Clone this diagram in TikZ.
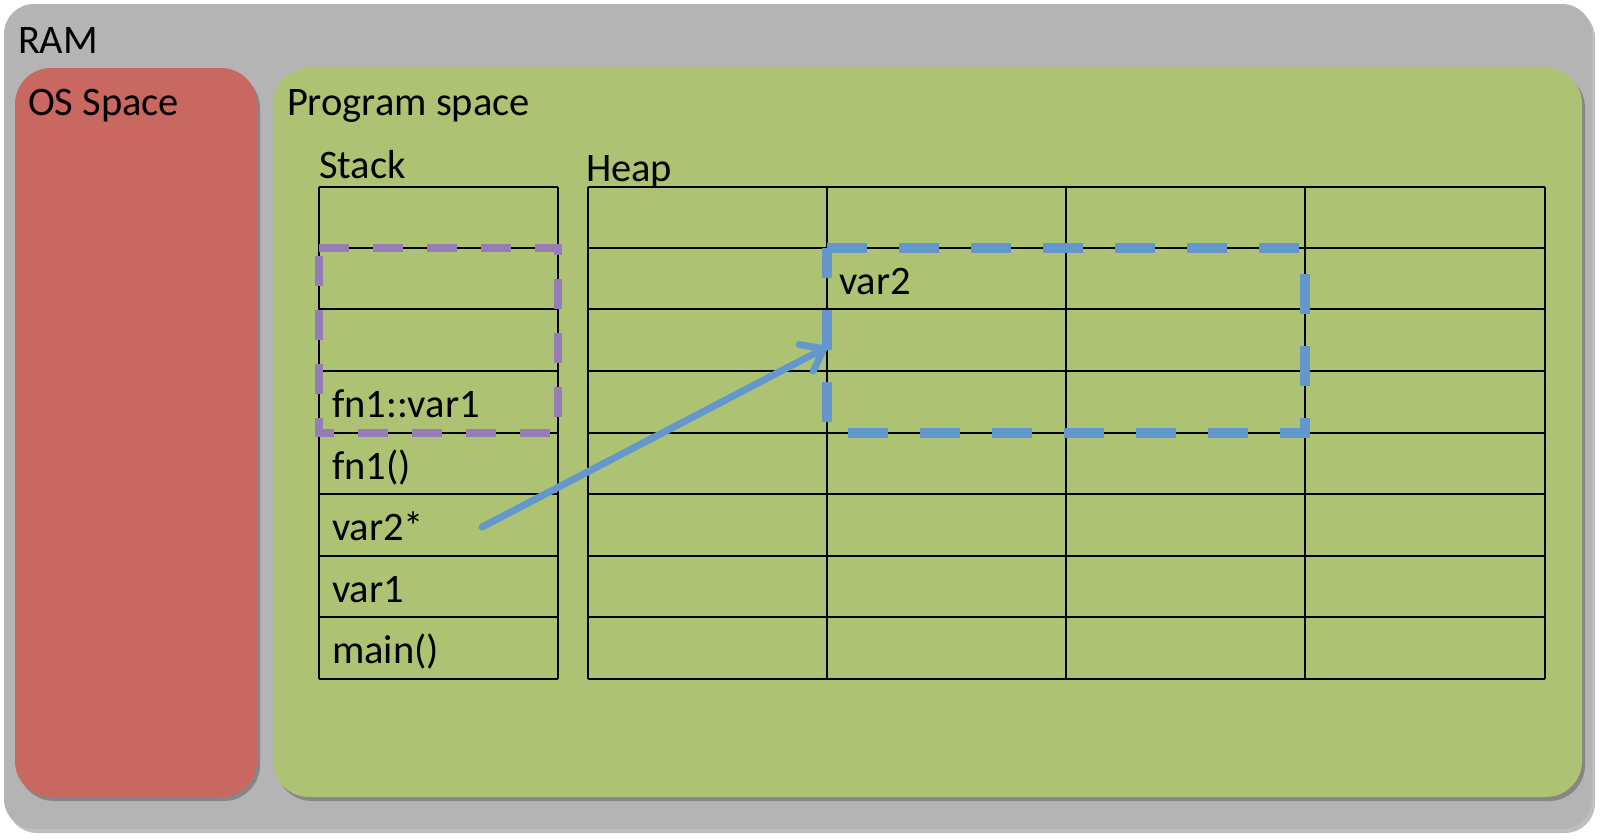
\documentclass[tikz,border=0pt]{standalone}
\usepackage{fontspec}
\setmainfont{Carlito}
\usetikzlibrary{arrows.meta,shadows}
\definecolor{ramgray}{RGB}{180,180,180}
\definecolor{osred}{RGB}{201,103,97}
\definecolor{proggreen}{RGB}{173,195,115}
\definecolor{ptrblue}{RGB}{100,152,204}
\definecolor{framepurple}{RGB}{150,125,184}
\begin{document}
\begin{tikzpicture}[x=1pt,y=-1pt,
  container/.style={draw=none, inner sep=0pt, outer sep=0pt, rectangle},
  softshadow/.style={drop shadow={shadow xshift=3pt, shadow yshift=-4pt, opacity=0.25, fill=black}},
  lbl/.style={anchor=base west, inner sep=0pt, outer sep=0pt, font=\fontsize{40.5pt}{48pt}\selectfont},
  gridline/.style={draw=black, line width=2pt},
  stackframe/.style={draw=framepurple, line width=8pt, dash pattern=on 30pt off 24pt},
  heapframe/.style={draw=ptrblue, line width=10pt, dash pattern=on 40pt off 32pt},
  pointer/.style={draw=ptrblue, line width=7pt, line cap=round, -{Straight Barb[length=20pt,width=30pt,round]}}
]
\useasboundingbox[fill=white] (0,0) rectangle (1600,839);

% containers
\node[container, softshadow, fill=ramgray, rounded corners=30pt,
      minimum width=1588pt, minimum height=825pt] (ram) at (798,416.5) {};
\node[container, softshadow, fill=osred, rounded corners=36pt,
      minimum width=242pt, minimum height=729pt] (os) at (136,432.5) {};
\node[container, softshadow, fill=proggreen, rounded corners=36pt,
      minimum width=1309pt, minimum height=729pt] (prog) at (927.5,432.5) {};

% titles
\node[lbl] (ramlbl) at (18,53) {RAM};
\node[lbl] (oslbl) at (28,115) {OS Space};
\node[lbl] (proglbl) at (287,115) {Program space};
\node[lbl] (stacklbl) at (319,178) {Stack};
\node[lbl] (heaplbl) at (586,181) {Heap};

% stack grid
\foreach \y in {187,248,309,371,433,494,556,617,679}
  \draw[gridline] (319,\y) -- (558,\y);
\draw[gridline] (319,187) -- (319,679);
\draw[gridline] (558,187) -- (558,679);

% heap grid
\foreach \y in {187,248,309,371,433,494,556,617,679}
  \draw[gridline] (588,\y) -- (1545,\y);
\foreach \x in {588,827,1066,1305,1545}
  \draw[gridline] (\x,187) -- (\x,679);

% stack contents
\node[lbl] (fnvar) at (332,417) {fn1::var1};
\node[lbl] (fncall) at (332,479) {fn1()};
\node[lbl] (ptr) at (332,540) {var2*};
\node[lbl] (v1) at (332,602) {var1};
\node[lbl] (mainf) at (332,663) {main()};

% heap contents
\node[lbl] (v2) at (839,294) {var2};

% dashed frames
\draw[stackframe] (319,248) -- (558,248) -- (558,433) -- (319,433) -- cycle;
\draw[heapframe] (827,248) -- (1305,248) -- (1305,433) -- (827,433) -- cycle;

% pointer
\coordinate (ptrsrc) at (482,527);
\coordinate (ptrdst) at (827,347);
\draw[pointer] (ptrsrc) -- (ptrdst);
\end{tikzpicture}
\end{document}
